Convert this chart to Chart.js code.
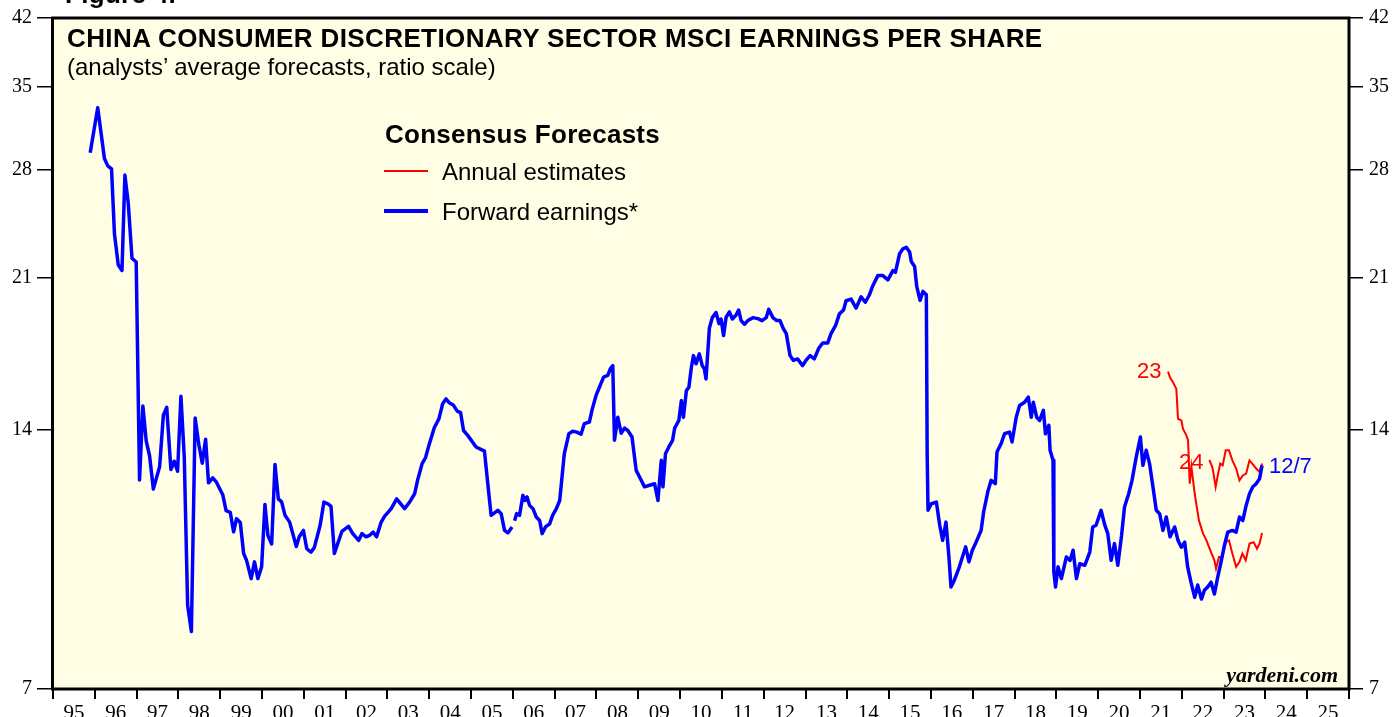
<!DOCTYPE html>
<html><head><meta charset="utf-8">
<script src="https://cdn.jsdelivr.net/npm/chart.js@4.4.1/dist/chart.umd.min.js"></script>
<style>
html,body{margin:0;padding:0;background:#fff;overflow:hidden;}
#wrap{position:relative;width:1393px;height:717px;overflow:hidden;}
canvas{position:absolute;left:0;top:0;}
.t{position:absolute;white-space:nowrap;line-height:1;font-family:"Liberation Sans",Arial,sans-serif;color:#000;}
.b{font-weight:bold;}
.sw{position:absolute;left:384px;width:44px;}
</style></head><body>
<div id="wrap">
<canvas id="c" width="1393" height="717"></canvas>
<div class="t b" style="left:65px;top:-19px;font-size:26px;letter-spacing:0.3px;">Figure 4.</div>
<div class="t b" style="left:67px;top:25px;font-size:26px;letter-spacing:0.4px;">CHINA CONSUMER DISCRETIONARY SECTOR MSCI EARNINGS PER SHARE</div>
<div class="t" style="left:67px;top:55px;font-size:24px;">(analysts’ average forecasts, ratio scale)</div>
<div class="t b" style="left:385px;top:121px;font-size:26px;letter-spacing:0.25px;">Consensus Forecasts</div>
<div class="sw" style="top:170px;height:2px;background:#ff0000;"></div>
<div class="t" style="left:442px;top:160px;font-size:24px;">Annual estimates</div>
<div class="sw" style="top:209px;height:4px;background:#0000ff;"></div>
<div class="t" style="left:442px;top:200px;font-size:24px;">Forward earnings*</div>
<div class="t" style="left:1137px;top:359.5px;font-size:22px;color:#ff0000;">23</div>
<div class="t" style="left:1179px;top:450.5px;font-size:22px;color:#ff0000;">24</div>
<div class="t" style="left:1269px;top:454.5px;font-size:22px;color:#0000ff;">12/7</div>
<div class="t" style="right:55px;top:664px;font-size:22px;font-family:'Liberation Serif','Times New Roman',serif;font-weight:bold;font-style:italic;">yardeni.com</div>
</div>
<script>
// ---- data (decimal years, EPS values) ----
const fwdDates = [1995.89,1996.07,1996.23,1996.31,1996.40,1996.47,1996.56,1996.65,1996.72,1996.80,1996.89,1996.99,
1997.07,1997.15,1997.23,1997.31,1997.40,1997.55,1997.64,1997.72,1997.82,1997.90,1997.98,
1998.06,1998.14,1998.22,1998.31,1998.40,1998.49,1998.57,1998.65,1998.72,1998.82,1998.90,
1999.06,1999.14,1999.24,1999.32,1999.39,1999.48,1999.56,1999.63,1999.74,1999.82,1999.90,1999.99,
2000.07,2000.14,2000.23,2000.31,2000.39,2000.47,2000.55,2000.66,2000.82,2000.89,2000.99,
2001.07,2001.17,2001.25,2001.39,2001.48,2001.57,2001.65,2001.73,2001.81,2001.91,
2002.07,2002.17,2002.31,2002.39,2002.49,2002.57,2002.66,2002.74,2002.85,2002.93,
2003.09,2003.22,2003.41,2003.53,2003.65,2003.72,2003.83,2003.91,
2004.00,2004.12,2004.23,2004.32,2004.40,2004.48,2004.58,2004.67,2004.75,2004.82,2004.92,
2005.12,2005.32,2005.40,2005.48,2005.64,2005.72,2005.80,2005.88,2005.98,2006.01,
2006.04,2006.09,2006.16,2006.24,2006.29,2006.34,2006.40,2006.48,2006.56,2006.64,2006.70,2006.78,2006.88,2006.95,
2007.04,2007.12,2007.16,2007.23,2007.34,2007.43,2007.53,2007.63,2007.71,2007.83,2007.90,2007.99,
2008.07,2008.17,2008.27,2008.33,2008.39,2008.43,2008.51,2008.59,2008.67,2008.75,2008.85,2008.91,2008.95,
2009.03,2009.15,2009.27,2009.39,2009.47,2009.55,2009.59,2009.65,2009.73,2009.82,2009.87,2009.97,
2010.03,2010.08,2010.15,2010.21,2010.27,2010.32,2010.38,2010.46,2010.53,2010.58,2010.62,2010.70,2010.77,2010.86,2010.93,2010.98,
2011.04,2011.10,2011.18,2011.25,2011.34,2011.40,2011.46,2011.54,2011.62,2011.74,2011.86,2011.96,
2012.06,2012.12,2012.22,2012.31,2012.39,2012.47,2012.54,2012.63,2012.71,2012.81,2012.93,
2013.01,2013.11,2013.21,2013.32,2013.41,2013.53,2013.61,2013.72,2013.81,2013.91,2013.97,
2014.09,2014.21,2014.33,2014.43,2014.53,2014.61,2014.73,2014.85,2014.97,
2015.09,2015.15,2015.25,2015.33,2015.41,2015.49,2015.53,2015.61,2015.66,2015.74,2015.81,2015.89,2015.91,2015.93,
2016.01,2016.13,2016.21,2016.28,2016.36,2016.43,2016.48,2016.56,2016.68,2016.83,2016.91,2016.99,
2017.08,2017.20,2017.26,2017.36,2017.44,2017.54,2017.58,2017.68,2017.76,2017.88,2017.94,
2018.04,2018.12,2018.24,2018.33,2018.40,2018.45,2018.53,2018.60,2018.69,2018.74,2018.82,2018.85,2018.92,2018.94,2018.98,
2019.04,2019.12,2019.24,2019.33,2019.40,2019.48,2019.56,2019.68,2019.80,2019.87,2019.95,
2020.07,2020.15,2020.23,2020.31,2020.39,2020.47,2020.56,2020.63,2020.73,2020.81,2020.91,
2021.01,2021.07,2021.15,2021.23,2021.31,2021.39,2021.47,2021.55,2021.63,2021.72,2021.83,2021.91,2021.99,
2022.07,2022.14,2022.22,2022.31,2022.38,2022.47,2022.54,2022.62,2022.70,2022.78,2022.86,2022.94,
2023.02,2023.10,2023.21,2023.30,2023.38,2023.46,2023.54,2023.62,2023.70,2023.78,2023.86,2023.92];
const fwdEps = [29.31,33.05,28.86,28.30,28.08,23.60,21.73,21.40,27.61,25.61,22.11,21.89,
12.23,14.90,13.57,13.05,11.94,12.67,14.54,14.85,12.58,12.86,12.52,
15.30,13.00,8.76,8.16,14.43,13.43,12.79,13.64,12.14,12.30,12.18,
11.76,11.27,11.22,10.65,11.03,10.92,10.05,9.87,9.40,9.83,9.40,9.70,
11.46,10.55,10.31,12.75,11.63,11.53,11.13,10.93,10.24,10.51,10.69,
10.18,10.09,10.21,10.84,11.53,11.48,11.40,10.05,10.32,10.66,
10.81,10.60,10.41,10.60,10.51,10.55,10.64,10.51,10.93,11.10,
11.33,11.63,11.33,11.53,11.79,12.22,12.78,12.98,
13.46,14.06,14.40,14.99,15.19,15.03,14.93,14.70,14.64,13.96,13.78,
13.36,13.21,12.11,11.13,11.28,11.18,10.69,10.62,10.79,null,
10.97,11.18,11.13,11.74,11.58,11.69,11.43,11.33,11.08,10.98,10.60,10.79,10.88,11.13,
11.33,11.58,12.11,13.12,13.84,13.93,13.90,13.82,14.22,14.28,14.79,15.33,
15.67,16.10,16.17,16.46,16.60,13.60,14.46,13.86,14.05,13.96,13.72,13.00,12.55,
12.33,12.01,12.06,12.11,11.58,12.89,12.01,13.12,13.36,13.60,14.05,14.34,
15.12,14.46,15.53,15.67,16.53,17.05,16.68,17.13,16.60,16.46,16.02,18.34,18.87,19.13,18.57,18.80,
17.99,18.89,19.16,18.80,19.00,19.26,18.72,18.54,18.72,18.87,18.82,18.72,
18.87,19.30,18.87,18.72,18.72,18.32,18.08,17.05,16.83,16.90,16.60,
16.83,17.05,16.90,17.40,17.63,17.63,18.08,18.48,19.06,19.26,19.74,
19.83,19.36,19.95,19.66,20.06,20.55,21.11,21.11,20.87,
21.39,21.30,22.38,22.68,22.77,22.49,21.92,21.63,20.51,19.76,20.24,20.06,13.12,11.28,
11.48,11.53,10.84,10.41,10.93,9.96,9.19,9.36,9.70,10.23,9.83,10.14,
10.36,10.69,11.23,11.85,12.22,12.11,13.18,13.48,13.84,13.90,13.54,
14.46,14.92,15.05,15.26,14.46,15.05,14.46,14.34,14.73,13.84,14.15,13.24,12.89,9.57,9.19,
9.70,9.40,9.96,9.87,10.14,9.40,9.78,9.74,10.09,10.79,10.84,
11.28,10.88,10.60,9.87,10.32,9.74,10.55,11.38,11.79,12.22,13.00,
13.72,12.72,13.24,12.77,12.01,11.28,11.18,10.69,11.08,10.51,10.79,10.41,10.22,
10.36,9.70,9.31,8.94,9.24,8.90,9.11,9.19,9.31,9.02,9.44,9.83,
10.27,10.64,10.69,10.64,11.08,10.98,11.43,11.79,12.01,12.11,12.27,12.72];

const est23Dates = [2021.67,2021.72,2021.79,2021.87,2021.91,2021.99,2022.03,2022.11,2022.15,2022.19,2022.23,2022.31,2022.41,2022.51,2022.59,2022.68,2022.78,2022.82,2022.89,2022.97,2023.05,2023.13,2023.21,2023.30,2023.38,2023.45,2023.53,2023.62,2023.72,2023.80,2023.86,2023.92];
const est23Eps = [16.34,16.08,15.88,15.60,14.40,14.34,14.02,13.78,13.60,12.11,12.67,11.79,10.98,10.60,10.41,10.14,9.87,9.65,9.96,9.96,10.36,10.41,10.05,9.70,9.83,10.05,9.87,10.32,10.36,10.18,10.32,10.62];

const est24Dates = [2022.66,2022.73,2022.76,2022.81,2022.87,2022.92,2022.98,2023.05,2023.13,2023.21,2023.30,2023.38,2023.46,2023.54,2023.62,2023.72,2023.78,2023.86,2023.92];
const est24Eps = [12.91,12.66,12.44,12.01,12.44,12.78,12.72,13.24,13.24,12.89,12.61,12.22,12.38,12.44,12.89,12.72,12.61,12.50,12.78];

const yTickValues = [7,14,21,28,35,42];
const firstYear = 1995;
const lastYear = 2026;
const yearLabels = ['95','96','97','98','99','00','01','02','03','04','05','06','07','08','09','10','11','12','13','14','15','16','17','18','19','20','21','22','23','24','25'];

const toPts = (xs, ys) => xs.map((x, i) => ({x: x, y: ys[i]}));

const framePlugin = {
  id: 'frame',
  beforeDraw(chart) {
    const {ctx, chartArea: a} = chart;
    ctx.save();
    ctx.fillStyle = '#FFFEE5';
    ctx.fillRect(a.left, a.top, a.right - a.left, a.bottom - a.top);
    ctx.restore();
  },
  afterDatasetsDraw(chart) {
    const {ctx, chartArea: a} = chart;
    ctx.save();
    ctx.strokeStyle = '#000';
    ctx.lineWidth = 3;
    ctx.strokeRect(a.left - 0.5, a.top, a.right - a.left + 0.5, a.bottom - a.top);
    ctx.restore();
  }
};

const serif = "'Liberation Serif','Times New Roman',serif";

const yAxis = (pos, w, pad) => ({
  type: 'logarithmic',
  position: pos,
  min: 7, max: 42,
  afterBuildTicks: (s) => { s.ticks = yTickValues.map(v => ({value: v})); },
  afterFit: (s) => { s.width = w; },
  ticks: {
    callback: (v) => String(v),
    font: {family: serif, size: 20},
    color: '#000',
    padding: pad,
    autoSkip: false
  },
  grid: {drawOnChartArea: false, drawTicks: true, tickLength: pos === 'left' ? 16 : 14, color: '#000', lineWidth: 1.5},
  border: {display: false}
});

new Chart(document.getElementById('c'), {
  type: 'line',
  data: {
    datasets: [
      {label: 'Forward earnings*', data: toPts(fwdDates, fwdEps), borderColor: '#0000ff', borderWidth: 3.5, pointRadius: 0, spanGaps: false, tension: 0, borderJoinStyle: 'round', yAxisID: 'y'},
      {label: '2023 annual estimate', data: toPts(est23Dates, est23Eps), borderColor: '#ff0000', borderWidth: 2, pointRadius: 0, tension: 0, yAxisID: 'y'},
      {label: '2024 annual estimate', data: toPts(est24Dates, est24Eps), borderColor: '#ff0000', borderWidth: 2, pointRadius: 0, tension: 0, yAxisID: 'y'}
    ]
  },
  options: {
    responsive: false,
    animation: false,
    devicePixelRatio: 1,
    layout: {padding: {top: 17, left: 0, right: 0, bottom: 0}},
    plugins: {legend: {display: false}, tooltip: {enabled: false}},
    scales: {
      x: {
        type: 'linear',
        position: 'bottom',
        min: firstYear, max: lastYear,
        afterBuildTicks: (s) => { s.ticks = yearLabels.map((l, i) => ({value: firstYear + i + 0.5})); },
        afterFit: (s) => { s.height = 28; },
        ticks: {
          callback: (v, i) => yearLabels[i],
          font: {family: serif, size: 21},
          color: '#000',
          padding: 2,
          autoSkip: false,
          maxRotation: 0
        },
        grid: {offset: true, drawOnChartArea: false, drawTicks: true, tickLength: 10, color: '#000', lineWidth: 2},
        border: {display: false}
      },
      y: yAxis('left', 53, 5),
      y2: yAxis('right', 44, 6)
    }
  },
  plugins: [framePlugin]
});
</script>
</body></html>
